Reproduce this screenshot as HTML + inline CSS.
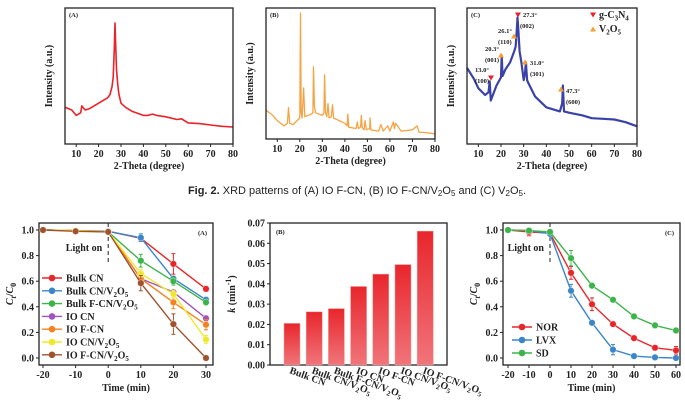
<!DOCTYPE html>
<html><head><meta charset="utf-8">
<style>
html,body{margin:0;padding:0;background:#fff;}
svg{display:block;font-family:"Liberation Serif",serif;}
.t{font-weight:bold;font-size:10px;fill:#222;}
.sm{font-weight:bold;font-size:6.5px;fill:#222;}
.cap{font-family:"Liberation Sans",sans-serif;font-size:11px;fill:#222;}
</style></head>
<body>
<svg id="fig" width="685" height="404" viewBox="0 0 685 404" xmlns="http://www.w3.org/2000/svg">
<defs>
<linearGradient id="barg" x1="0" y1="0" x2="0" y2="1">
<stop offset="0" stop-color="#e8262c"/><stop offset="1" stop-color="#f0757a"/>
</linearGradient>
</defs>
<text class="cap" x="357" y="194" text-anchor="middle"><tspan font-weight="bold">Fig. 2.</tspan>  XRD patterns of (A) IO F-CN, (B) IO F-CN/V<tspan font-size="8" dy="2">2</tspan><tspan dy="-2">O</tspan><tspan font-size="8" dy="2">5</tspan><tspan dy="-2"> and (C) V</tspan><tspan font-size="8" dy="2">2</tspan><tspan dy="-2">O</tspan><tspan font-size="8" dy="2">5</tspan><tspan dy="-2">.</tspan></text>
</svg>
<script>
// ---------- data ----------
const xrdTicks = [10,20,30,40,50,60,70,80];
const xrdA_x = [5,8,10,12,12.5,14,16,20,24,25,26,26.5,27,27.3,27.6,28,28.5,29,30,32,35,40,42,44,46,50,55,57,60,65,70,75,80];
const xrdA_y = [0.27,0.25,0.21,0.23,0.28,0.25,0.26,0.30,0.34,0.36,0.42,0.49,0.70,0.89,0.75,0.55,0.45,0.37,0.30,0.27,0.24,0.21,0.21,0.22,0.21,0.20,0.18,0.185,0.155,0.15,0.14,0.13,0.125];
const xrdB_x = [5,8,10,13,14.5,15,15.5,17,20,20.3,20.6,21,21.7,22.2,25,25.8,26.1,26.5,27,30,30.7,31,31.4,32,32.5,33,34,34.5,35,40,41,41.3,41.7,45,45.5,46,47,47.3,47.7,48.5,49,49.5,51,51.2,51.5,55,56,57,59,60,61.5,62,62.5,65,70,72,73,75,80];
const xrdB_y = [0.22,0.18,0.14,0.10,0.12,0.24,0.12,0.11,0.16,0.96,0.2,0.16,0.39,0.17,0.19,0.2,0.55,0.25,0.2,0.18,0.2,0.49,0.2,0.17,0.27,0.16,0.17,0.26,0.16,0.12,0.10,0.19,0.09,0.08,0.13,0.08,0.09,0.18,0.09,0.07,0.14,0.07,0.08,0.16,0.07,0.06,0.11,0.06,0.10,0.06,0.13,0.08,0.12,0.06,0.07,0.10,0.05,0.05,0.04];
const xrdC_x = [5,8,10,13,14.5,15,15.5,18,20,20.3,20.7,22,24,26,26.5,27,27.3,27.7,28.2,29,30,30.6,31,31.5,32,35,40,46,47,47.3,47.8,50,56,60,65,70,75,80];
const xrdC_y = [0.56,0.48,0.41,0.36,0.38,0.46,0.32,0.43,0.49,0.65,0.50,0.55,0.60,0.69,0.72,0.85,0.93,0.82,0.68,0.60,0.47,0.52,0.60,0.47,0.45,0.35,0.27,0.24,0.30,0.43,0.24,0.23,0.21,0.19,0.185,0.18,0.16,0.13];

const timeA = [-20,-10,0,10,20,30];
const seriesNamesA = ["Bulk CN","Bulk CN/V2O5","Bulk F-CN/V2O5","IO CN","IO F-CN","IO CN/V2O5","IO F-CN/V2O5"];
const bulkCN = [1,0.995,0.99,0.935,0.735,0.54];
const bulkCNV = [1,0.995,0.99,0.94,0.62,0.455];
const bulkFCNV = [1,0.995,0.985,0.76,0.60,0.435];
const ioCN = [1,0.995,0.985,0.62,0.515,0.31];
const ioFCN = [1,0.995,0.985,0.62,0.435,0.26];
const ioCNV = [1,0.995,0.985,0.66,0.50,0.145];
const ioFCNV = [1,0.99,0.985,0.585,0.265,0.0];
const errA = [[0,0,0,0.02,0.08,0.02],[0,0,0.01,0.03,0.02,0.02],[0,0,0,0.05,0.03,0.02],[0,0,0,0.01,0.01,0.02],[0,0,0,0.02,0.05,0.04],[0,0,0,0.03,0.03,0.03],[0,0.01,0.01,0.06,0.08,0]];
const yTicksCt = [0.0,0.2,0.4,0.6,0.8,1.0];
const xTicksA = [-20,-10,0,10,20,30];

const barCats = ["Bulk CN","Bulk CN/V2O5","Bulk F-CN/V2O5","IO CN","IO F-CN","IO CN/V2O5","IO F-CN/V2O5"];
const kValues = [0.0205,0.0262,0.0278,0.0387,0.0448,0.0495,0.066];
const kTicks = [0,0.01,0.02,0.03,0.04,0.05,0.06,0.07];

const timeC = [-20,-10,0,10,20,30,40,50,60];
const norVals = [1,0.985,0.975,0.665,0.42,0.265,0.155,0.08,0.06];
const lvxVals = [1,0.995,0.97,0.525,0.275,0.065,0.015,0.005,0.0];
const sdVals = [1,0.995,0.985,0.78,0.565,0.455,0.325,0.255,0.215];
const errNor = [0,0.03,0,0.05,0.05,0,0,0,0.03];
const errLvx = [0,0,0,0.05,0,0.04,0,0,0];
const errSd = [0,0,0.01,0.06,0,0,0,0,0];
const xTicksC = [-20,-10,0,10,20,30,40,50,60];

// ---------- helpers ----------
const NS="http://www.w3.org/2000/svg";
const svg=document.getElementById('fig');
function mk(tag,attrs,parent){const e=document.createElementNS(NS,tag);for(const k in attrs)e.setAttribute(k,attrs[k]);(parent||svg).appendChild(e);return e;}
function lin(d0,d1,r0,r1){return v=>r0+(v-d0)*(r1-r0)/(d1-d0);}
function chemText(x,y,str,cls,extra,parent){
  const t=mk('text',Object.assign({x:x,y:y,class:cls},extra||{}),parent);
  const out=str.replace(/([VONC])(\d)/g,'$1\u0001$2\u0002');
  const segs=out.split(/(\u0001\d\u0002)/);
  let down=false;
  segs.forEach(sg=>{if(!sg)return;const ts=document.createElementNS(NS,'tspan');
    if(sg[0]==='\u0001'){ts.setAttribute('font-size','0.7em');ts.setAttribute('dy','2.5');ts.textContent=sg[1];down=true;}
    else{ if(down){ts.setAttribute('dy','-2.5');down=false;} ts.textContent=sg;}
    t.appendChild(ts);});
  return t;
}
function frame(l,r,t,b,name){
  const f=mk('rect',{x:l,y:t,width:r-l,height:b-t,fill:'none',stroke:'#222','stroke-width':1.3});
  
  
}

// ---------- XRD panels ----------
function xrdPanel(l,r,t,b,xs,ys,color,label,name,sw){
  const g=mk('g',{});
  
  
  const X=lin(5,80,l,r), Y=lin(0,1,b,t);
  let d='';xs.forEach((x,i)=>{d+=(i?'L':'M')+X(x).toFixed(1)+','+Y(ys[i]).toFixed(1);});
  const p=mk('path',{d:d,fill:'none',stroke:color,'stroke-width':sw,'stroke-linejoin':'round'},g);
  
  
  frame(l,r,t,b,name+'-frame');
  xrdTicks.forEach(v=>{
    mk('line',{x1:X(v),x2:X(v),y1:b,y2:b+3,stroke:'#222','stroke-width':1},g);
    const tl=mk('text',{x:X(v),y:b+13,class:'t','text-anchor':'middle'},g);
    
    
    tl.textContent=v;
  });
  const xt=mk('text',{x:(l+r)/2,y:b+25,class:'t','text-anchor':'middle'},g);
  
  
  xt.textContent='2-Theta (degree)';
  const yt=mk('text',{x:0,y:0,class:'t','text-anchor':'middle',transform:`translate(${l-13},${(t+b)/2}) rotate(-90)`},g);
  
  
  yt.textContent='Intensity (a.u.)';
  const pl=mk('text',{x:l+4,y:t+9,class:'sm'},g);
  
  
  pl.textContent=label;
}
xrdPanel(65,233,8,144,xrdA_x,xrdA_y,'#e8232a','(A)','xrd-panel-a',1.6);
xrdPanel(266,435,8,139,xrdB_x,xrdB_y,'#f5a445','(B)','xrd-panel-b',1.3);
xrdPanel(467,637,8,144,xrdC_x,xrdC_y,'#3a42a8','(C)','xrd-panel-c',2.2);

function tri(x,y,down,color){
  const pts=down?`${x-3},${y-2.5} ${x+3},${y-2.5} ${x},${y+2.5}`:`${x-3},${y+2.5} ${x+3},${y+2.5} ${x},${y-2.5}`;
  const p=mk('polygon',{points:pts,fill:color});
  
  
}
const annots=[[518,15,true,523,17,520,28,'27.3°','(002)'],[514,36,false,498,33,498,44,'26.1°','(110)'],[501,55,false,485,51,485,62,'20.3°','(001)'],[491,78,true,475,72,475,83,'13.0°','(100)'],[525,62,false,530,65,530,76,'31.0°','(301)'],[561,89,false,566,93,566,104,'47.3°','(600)']];
annots.forEach(a=>{
  tri(a[0],a[1],a[2],a[2]?'#e8202a':'#f5a030');
  const t1=mk('text',{x:a[3],y:a[4],class:'sm'});
  
  
  t1.textContent=a[7];
  const t2=mk('text',{x:a[5],y:a[6],class:'sm'});
  
  
  t2.textContent=a[8];
});
tri(593,15,true,'#e8202a');
const lg1=chemText(599,18,'g-C3N4','t',{'font-size':'9'});


tri(593,29,false,'#f5a030');
const lg2=chemText(599,32,'V2O5','t',{'font-size':'9'});



// ---------- line panels ----------
function ctAxes(l,r,t,b,X,Y,xticks,name,label){
  frame(l,r,t,b,name+'-frame');
  yTicksCt.forEach(v=>{
    mk('line',{x1:l,x2:l-3,y1:Y(v),y2:Y(v),stroke:'#222'});
    const tl=mk('text',{x:l-5,y:Y(v)+3.5,class:'t','text-anchor':'end'});
    
    
    tl.textContent=v.toFixed(1);
  });
  xticks.forEach(v=>{
    mk('line',{x1:X(v),x2:X(v),y1:b,y2:b+3,stroke:'#222'});
    const tl=mk('text',{x:X(v),y:b+13,class:'t','text-anchor':'middle'});
    
    
    tl.textContent=v;
  });
  const xt=mk('text',{x:(l+r)/2,y:b+26,class:'t','text-anchor':'middle','font-size':'11'});
  
  
  xt.textContent='Time (min)';
  const yt=mk('text',{x:0,y:0,class:'t','text-anchor':'middle','font-size':'13',transform:`translate(${l-26},${(t+b)/2}) rotate(-90)`});
  
  
  yt.innerHTML='<tspan font-style="italic">C</tspan><tspan font-size="8" dy="3" font-style="italic">t</tspan><tspan dy="-3">/</tspan><tspan font-style="italic">C</tspan><tspan font-size="8" dy="3">0</tspan>';
  const pl=mk('text',{x:r-15,y:t+12,class:'sm'});
  
  
  pl.textContent=label;
  const dl=mk('line',{x1:X(0),x2:X(0),y1:t,y2:t+40,stroke:'#222','stroke-dasharray':'4,3','stroke-width':1});
  
  
  const lo=mk('text',{x:X(0)-6,y:t+28,class:'t','text-anchor':'end','font-size':'9'});
  
  
  lo.textContent='Light on';
}
function series(X,Y,xs,ys,err,color,name){
  const g=mk('g',{});
  
  
  let d='';xs.forEach((x,i)=>{d+=(i?'L':'M')+X(x).toFixed(1)+','+Y(ys[i]).toFixed(1);});
  mk('path',{d:d,fill:'none',stroke:color,'stroke-width':1.4},g);
  xs.forEach((x,i)=>{
    if(err&&err[i]>0){
      mk('line',{x1:X(x),x2:X(x),y1:Y(ys[i]-err[i]),y2:Y(ys[i]+err[i]),stroke:color,'stroke-width':1},g);
      mk('line',{x1:X(x)-2,x2:X(x)+2,y1:Y(ys[i]-err[i]),y2:Y(ys[i]-err[i]),stroke:color},g);
      mk('line',{x1:X(x)-2,x2:X(x)+2,y1:Y(ys[i]+err[i]),y2:Y(ys[i]+err[i]),stroke:color},g);
    }
    const c=mk('circle',{cx:X(x),cy:Y(ys[i]),r:3.3,fill:color,stroke:'#fff','stroke-width':0.6,'stroke-opacity':0.6},g);
    
    
  });
}
function legendEntry(x,y,color,label){
  const g=mk('g',{});
  
  
  mk('line',{x1:x,x2:x+20,y1:y,y2:y,stroke:color,'stroke-width':1.4},g);
  mk('circle',{cx:x+10,cy:y,r:3.3,fill:color},g);
  chemText(x+24,y+3.5,label,'t',{'font-size':'9.5'},g);
}

// panel A
{
  const l=39,r=213,t=223,b=365;
  const X=lin(-20,30,43,206),Y=lin(0,1,358,230);
  ctAxes(l,r,t,b,X,Y,xTicksA,'kinetics-panel-a','(A)');
  const colors=['#e8262a','#3a86c8','#3cb44a','#a052c0','#f5821f','#f0e82a','#a0522d'];
  const data=[bulkCN,bulkCNV,bulkFCNV,ioCN,ioFCN,ioCNV,ioFCNV];
  data.forEach((ys,i)=>series(X,Y,timeA,ys,errA[i],colors[i],'series-'+i));
  seriesNamesA.forEach((n,i)=>legendEntry(42,278+i*12.8,colors[i],n));
}
// panel B
{
  const l=270,r=447,t=223,b=365;
  const Y=lin(0,0.07,b,t);
  const X=i=>292+i*22.2;
  frame(l,r,t,b,'rate-panel-frame');
  kValues.forEach((v,i)=>{
    const rc=mk('rect',{x:X(i)-8,y:Y(v),width:16,height:b-Y(v),fill:'url(#barg)',stroke:'#f29a9c','stroke-width':0.5});
    
    
  });
  kTicks.forEach(v=>{
    mk('line',{x1:l,x2:l-3,y1:Y(v),y2:Y(v),stroke:'#222'});
    const tl=mk('text',{x:l-5,y:Y(v)+3.5,class:'t','text-anchor':'end','font-size':'9'});
    
    
    tl.textContent=v.toFixed(2);
  });
  barCats.forEach((c,i)=>{
    const g=mk('g',{transform:`translate(${X(i)-3},${b+8}) rotate(20)`});
    
    
    chemText(0,0,c,'t',{'font-size':'8.5'},g);
  });
  const yt=mk('text',{x:0,y:0,class:'t','text-anchor':'middle','font-size':'12',transform:`translate(${l-35},${(t+b)/2}) rotate(-90)`});
  
  
  yt.innerHTML='<tspan font-style="italic">k</tspan> (min<tspan font-size="8" dy="-4">-1</tspan><tspan dy="4">)</tspan>';
  const pl=mk('text',{x:l+6,y:t+11,class:'sm'});
  
  
  pl.textContent='(B)';
}
// panel C
{
  const l=503,r=680,t=223,b=365;
  const X=lin(-20,60,508,676),Y=lin(0,1,358,230);
  ctAxes(l,r,t,b,X,Y,xTicksC,'kinetics-panel-c','(C)');
  series(X,Y,timeC,norVals,errNor,'#e8262a','series-nor');
  series(X,Y,timeC,lvxVals,errLvx,'#3a86c8','series-lvx');
  series(X,Y,timeC,sdVals,errSd,'#3cb44a','series-sd');
  legendEntry(512,327,'#e8262a','NOR');
  legendEntry(512,340,'#3a86c8','LVX');
  legendEntry(512,353,'#3cb44a','SD');
}
</script>
</body></html>
